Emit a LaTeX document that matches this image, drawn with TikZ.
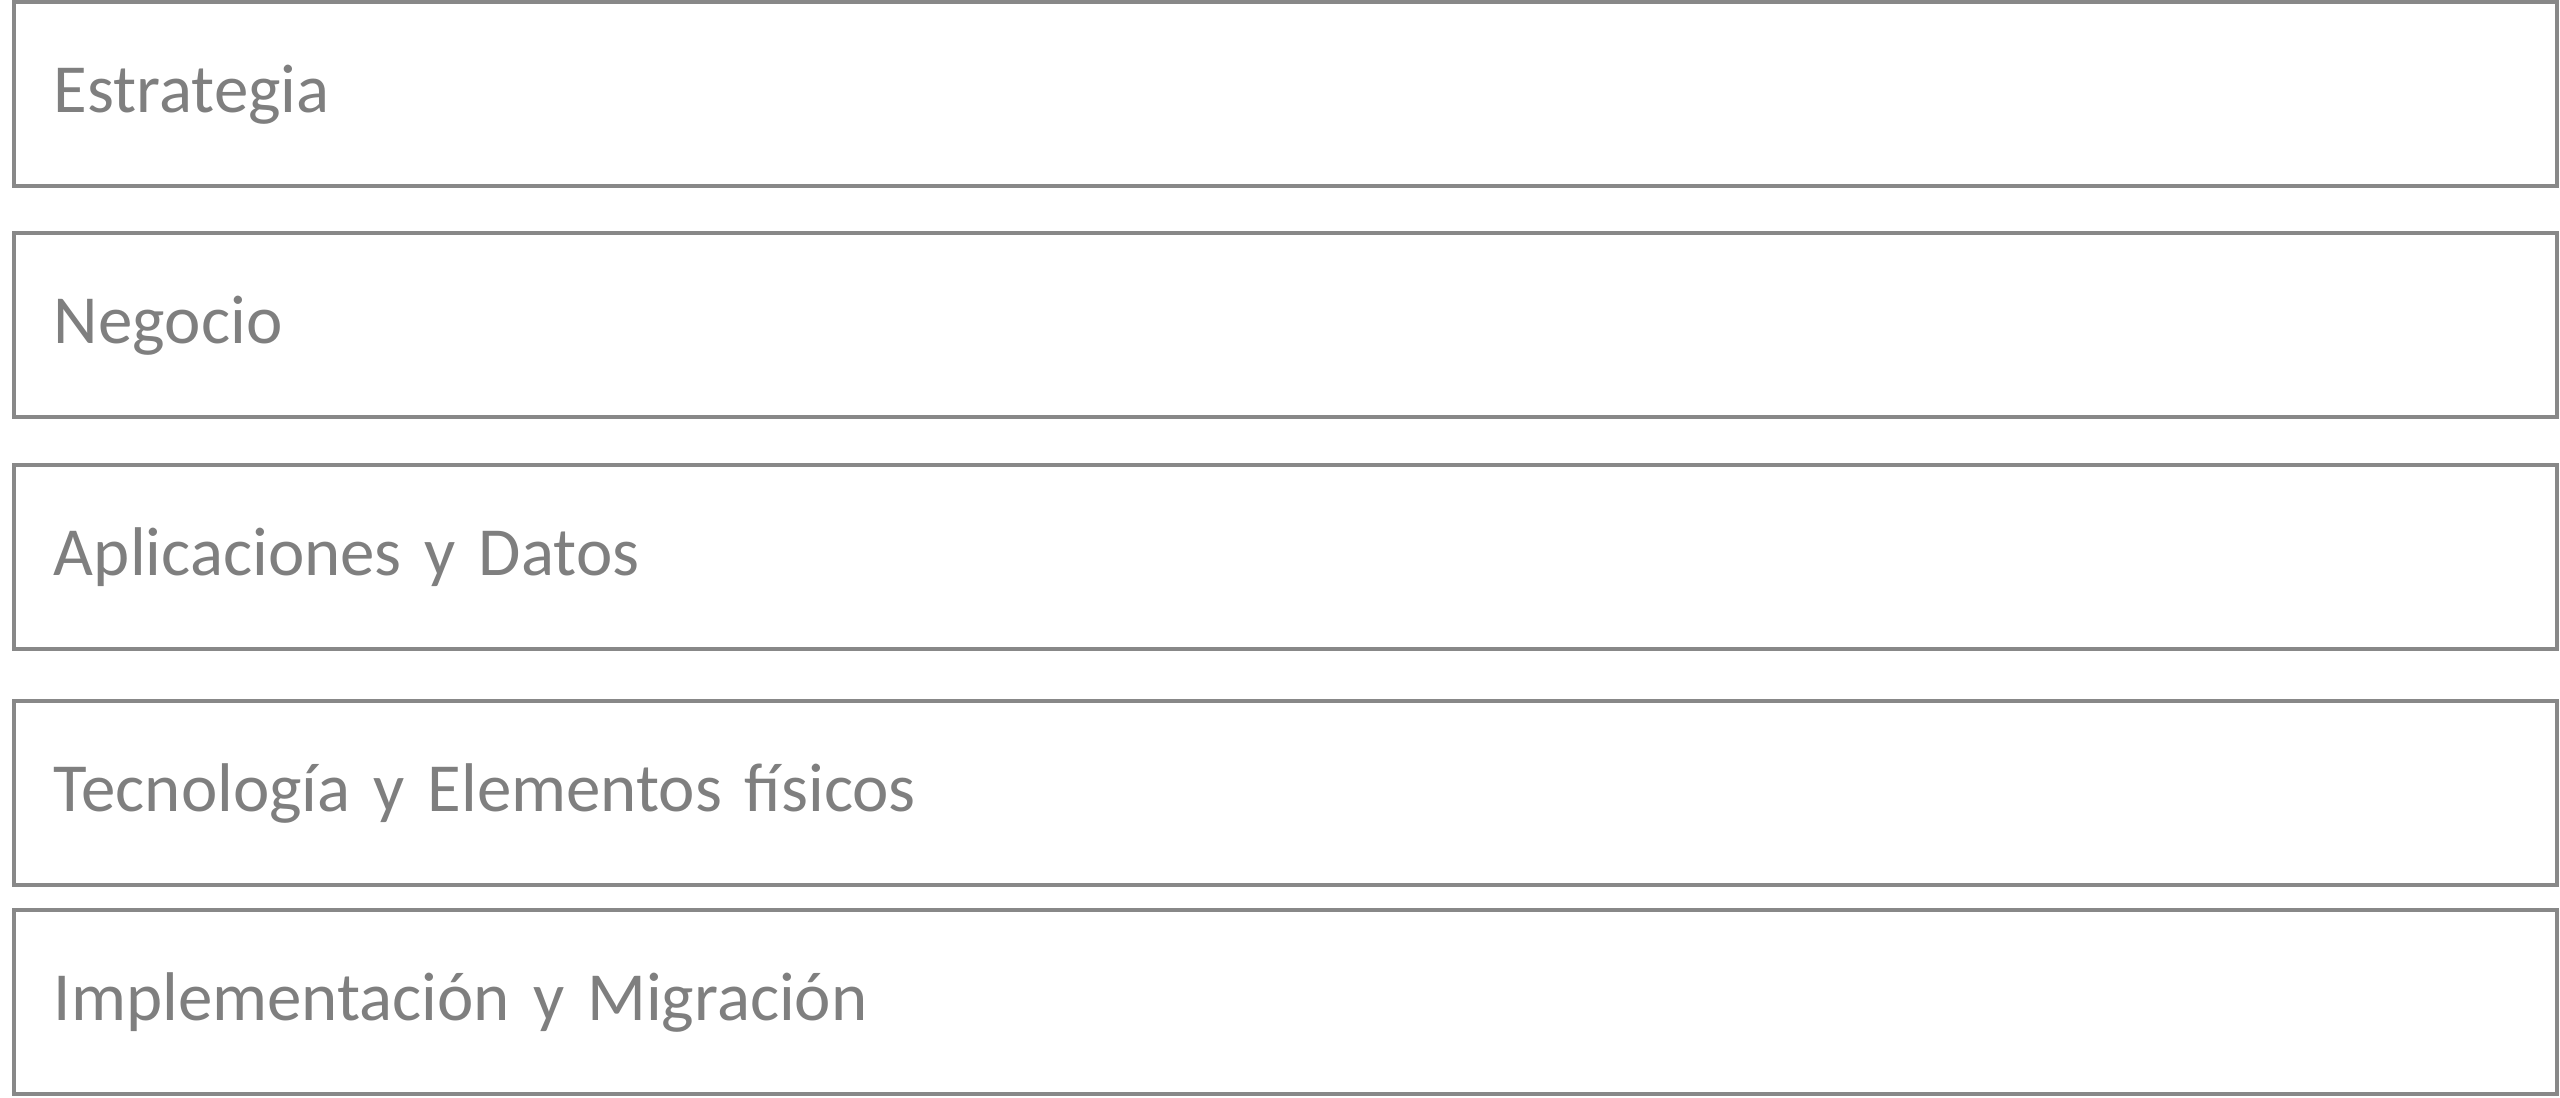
\documentclass[tikz,border=0pt]{standalone}
\usepackage{fontspec}
\setmainfont{Carlito}
\usetikzlibrary{positioning}
\definecolor{boxgray}{RGB}{136,136,136}
\definecolor{txtgray}{RGB}{127,127,127}

\begin{document}
\begin{tikzpicture}
        [layer/.style={draw=boxgray, line width=0.04cm, fill=white, outer sep=0pt,
                       minimum width=25.43cm, minimum height=1.84cm,
                       inner xsep=0.4cm, text width=24.63cm, align=left,
                       text height=15.7pt, text depth=4.9pt,
                       text=txtgray, font=\fontsize{19.6pt}{23pt}\selectfont}]
        \useasboundingbox (0,0) rectangle (25.6,-10.98);
        
        \node [layer] (st) at (12.855,-0.94)  {Estrategia};
        \node [layer] (ne) [below =0.47cm of st] {Negocio};
        \node [layer] (ad) [below =0.48cm of ne] {Aplicaciones y Datos};
        \node [layer] (te) [below =0.52cm of ad] {Tecnología y Elementos físicos};
        \node [layer] (im) [below =0.25cm of te] {Implementación y Migración};
        
\end{tikzpicture}
\end{document}
